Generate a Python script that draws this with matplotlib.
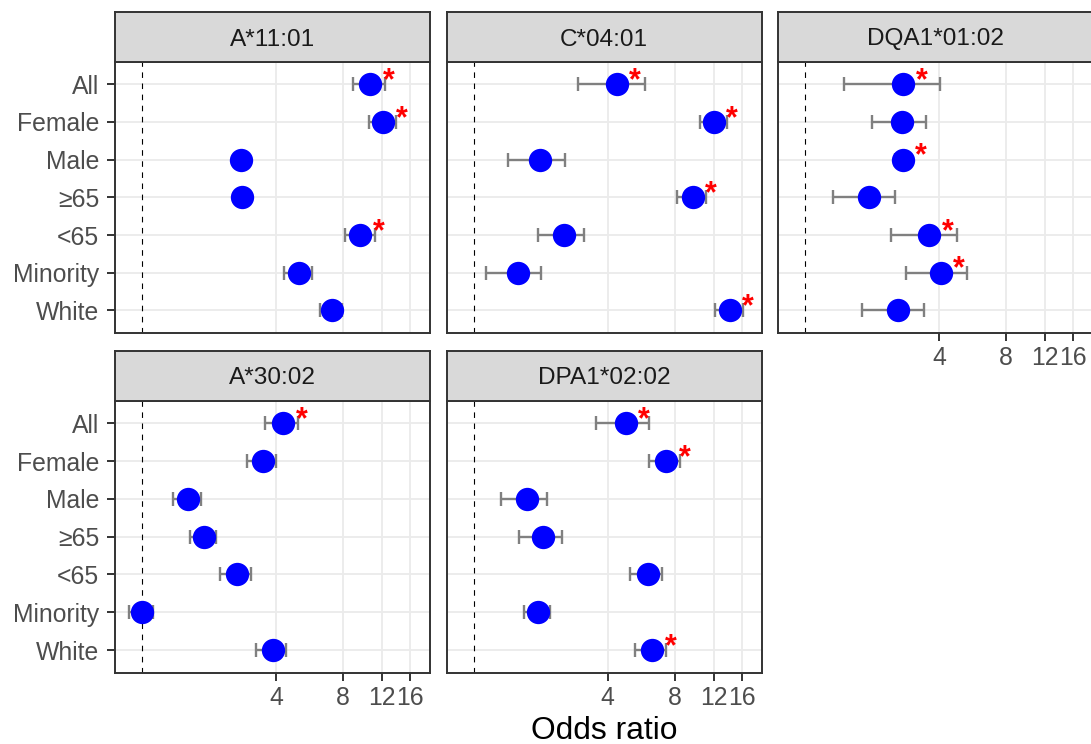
import numpy as np
import matplotlib.pyplot as plt

plt.rcParams['font.family'] = ['Liberation Sans', 'DejaVu Sans']

## subgroups, top to bottom
groups = ['All', 'Female', 'Male', '≥65', '<65', 'Minority', 'White']

## one facet per allele
alleles = ['A*11:01', 'C*04:01', 'DQA1*01:02', 'A*30:02', 'DPA1*02:02']

## odds ratio per allele (rows) and subgroup (columns)
odds_ratio = [
    [10.6, 12.1, 2.79, 2.82, 9.54, 5.07, 7.16],
    [4.40, 11.98, 1.98, 9.64, 2.54, 1.58, 14.13],
    [2.76, 2.74, 2.75, 1.93, 3.62, 4.08, 2.61],
    [4.31, 3.49, 1.61, 1.89, 2.66, 1.00, 3.87],
    [4.83, 7.31, 1.74, 2.04, 6.05, 1.94, 6.33],
]
ci_low = [
    [8.84, 10.47, 2.65, 2.68, 8.17, 4.33, 6.31],
    [2.94, 10.36, 1.42, 8.20, 1.94, 1.14, 12.18],
    [1.49, 1.99, 2.55, 1.33, 2.43, 2.84, 1.81],
    [3.57, 2.97, 1.38, 1.64, 2.24, 0.87, 3.25],
    [3.54, 6.16, 1.33, 1.59, 5.06, 1.69, 5.33],
]
ci_high = [
    [12.35, 13.9, 2.95, 2.98, 11.14, 5.83, 7.9],
    [5.91, 13.74, 2.56, 11.06, 3.14, 2.01, 16.2],
    [4.04, 3.48, 2.95, 2.54, 4.82, 5.34, 3.44],
    [5.04, 4.00, 1.84, 2.14, 3.08, 1.12, 4.44],
    [6.16, 8.48, 2.13, 2.49, 7.02, 2.20, 7.34],
]
## significant after correction -> red star
significant = [
    [1, 1, 0, 0, 1, 0, 0],
    [1, 1, 0, 1, 0, 0, 1],
    [1, 0, 1, 0, 1, 1, 0],
    [1, 0, 0, 0, 0, 0, 0],
    [1, 1, 0, 0, 0, 0, 1],
]

x_breaks = [4, 8, 12, 16]
x_labels = ['4', '8', '12', '16']

W, H = 1091, 744
fig = plt.figure(figsize=(W / 100, H / 100), dpi=100)

col_left = [115, 446.7, 778]
col_w = 315
strip_top = [12.3, 351]
panel_top = [61.7, 400.7]
panel_bottom = [333, 672.7]

border = '#333333'
grid_col = '#EBEBEB'


def px_axes(left, top, right, bottom):
    return fig.add_axes([left / W, 1 - bottom / H, (right - left) / W, (bottom - top) / H])


y = np.arange(len(groups))

for i, allele in enumerate(alleles):
    col, row = i % 3, i // 3
    left = col_left[col]
    ax = px_axes(left, panel_top[row], left + col_w, panel_bottom[row])

    orr = np.array(odds_ratio[i])
    lo = np.array(ci_low[i])
    hi = np.array(ci_high[i])

    ax.set_xscale('log')
    ax.set_xlim(0.756, 19.7)
    ax.set_ylim(len(groups) - 0.4, -0.6)
    ax.minorticks_off()

    for b in x_breaks:
        ax.axvline(b, color=grid_col, lw=1.3, zorder=0)
    for yy in y:
        ax.axhline(yy, color=grid_col, lw=1.3, zorder=0)

    ax.axvline(1, color='black', lw=0.8, ls=(0, (5, 5)), zorder=1)

    ax.errorbar(orr, y, xerr=[orr - lo, hi - orr], fmt='none', ecolor='#808080',
                elinewidth=1.7, capsize=5, capthick=1.7, zorder=2)
    ax.plot(orr, y, 'o', color='#0000FF', markersize=16.8, markeredgewidth=0, zorder=3)

    for k in range(len(groups)):
        if significant[i][k]:
            ax.text(orr[k] * 1.21, y[k] + 0.13, '*', color='#FF0000', fontsize=22,
                    fontweight='bold', ha='center', va='baseline', zorder=4, clip_on=False)

    ax.set_xticks(x_breaks)
    ax.set_xticklabels(x_labels)
    ax.set_yticks(y)
    ax.set_yticklabels(groups)
    ax.tick_params(axis='both', length=6, width=1.4, color=border,
                   labelsize=17.8, labelcolor='#4D4D4D')
    ax.tick_params(axis='x', pad=3.5)
    ax.tick_params(axis='y', pad=5.5)

    if i not in (2, 3, 4):
        ax.tick_params(axis='x', bottom=False, labelbottom=False)
    if col != 0:
        ax.tick_params(axis='y', left=False, labelleft=False)

    for s in ax.spines.values():
        s.set_color(border)
        s.set_linewidth(1.4)

    # facet strip
    sax = px_axes(left, strip_top[row], left + col_w, panel_top[row])
    sax.set_facecolor('#D9D9D9')
    sax.set_xticks([])
    sax.set_yticks([])
    for s in sax.spines.values():
        s.set_color(border)
        s.set_linewidth(1.4)
    sax.text(0.5, 0.5, allele, transform=sax.transAxes, ha='center', va='center_baseline',
             fontsize=17.6, color='#1A1A1A')

fig.text(604 / W, 1 - 739 / H, 'Odds ratio', ha='center', va='baseline', fontsize=22.9,
         color='black')

fig.savefig('out.png', dpi=100)
